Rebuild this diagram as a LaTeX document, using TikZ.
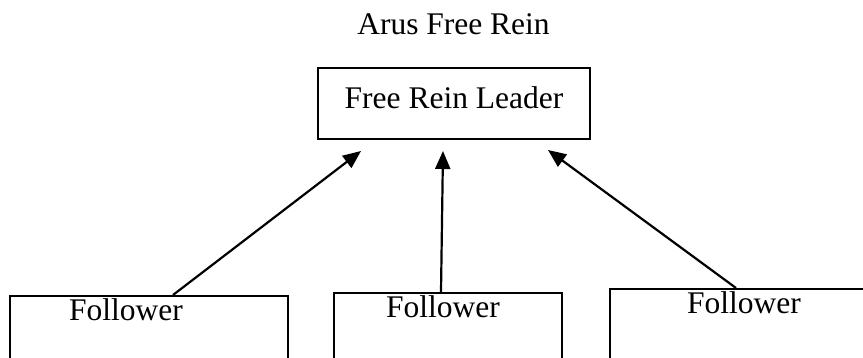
\documentclass[tikz,border=0pt]{standalone}
\usepackage{fontspec}
\setmainfont{Liberation Serif}
\usetikzlibrary{arrows.meta}
\begin{document}
\begin{tikzpicture}[x=1pt,y=-1pt,
  txt/.style={font=\fontsize{31.5}{36}\selectfont},
  box/.style={txt, draw, line width=2pt, inner sep=0pt},
  fol/.style={box, anchor=north west, align=left, text height=25pt, text depth=90pt},
  arr/.style={line width=2.2pt, -{Triangle[length=18pt,width=15pt]}}]
\useasboundingbox (0,0) rectangle (863,358);
\clip (0,0) rectangle (863,358);
\node[txt, anchor=base] (title) at (453.5,35) {Arus Free Rein};
\node[box, anchor=north west, minimum width=272pt, minimum height=71pt,
      text height=20pt, text depth=9pt] (lead) at (317,67) {Free Rein Leader};
\node[fol, text width=278pt] (f1) at (9,295) {\hspace*{59pt}Follower};
\node[fol, text width=228pt] (f2) at (333,292) {\hspace*{52pt}Follower};
\node[fol, text width=300pt] (f3) at (609,288) {\hspace*{77pt}Follower};
\coordinate (t1) at (361,151);
\coordinate (t2) at (443,151);
\coordinate (t3) at (548,150);
\draw[arr] ([xshift=24pt]f1.north) -- (t1);
\draw[arr] ([xshift=-7pt]f2.north) -- (t2);
\draw[arr] ([xshift=-24pt]f3.north) -- (t3);
\end{tikzpicture}
\end{document}
